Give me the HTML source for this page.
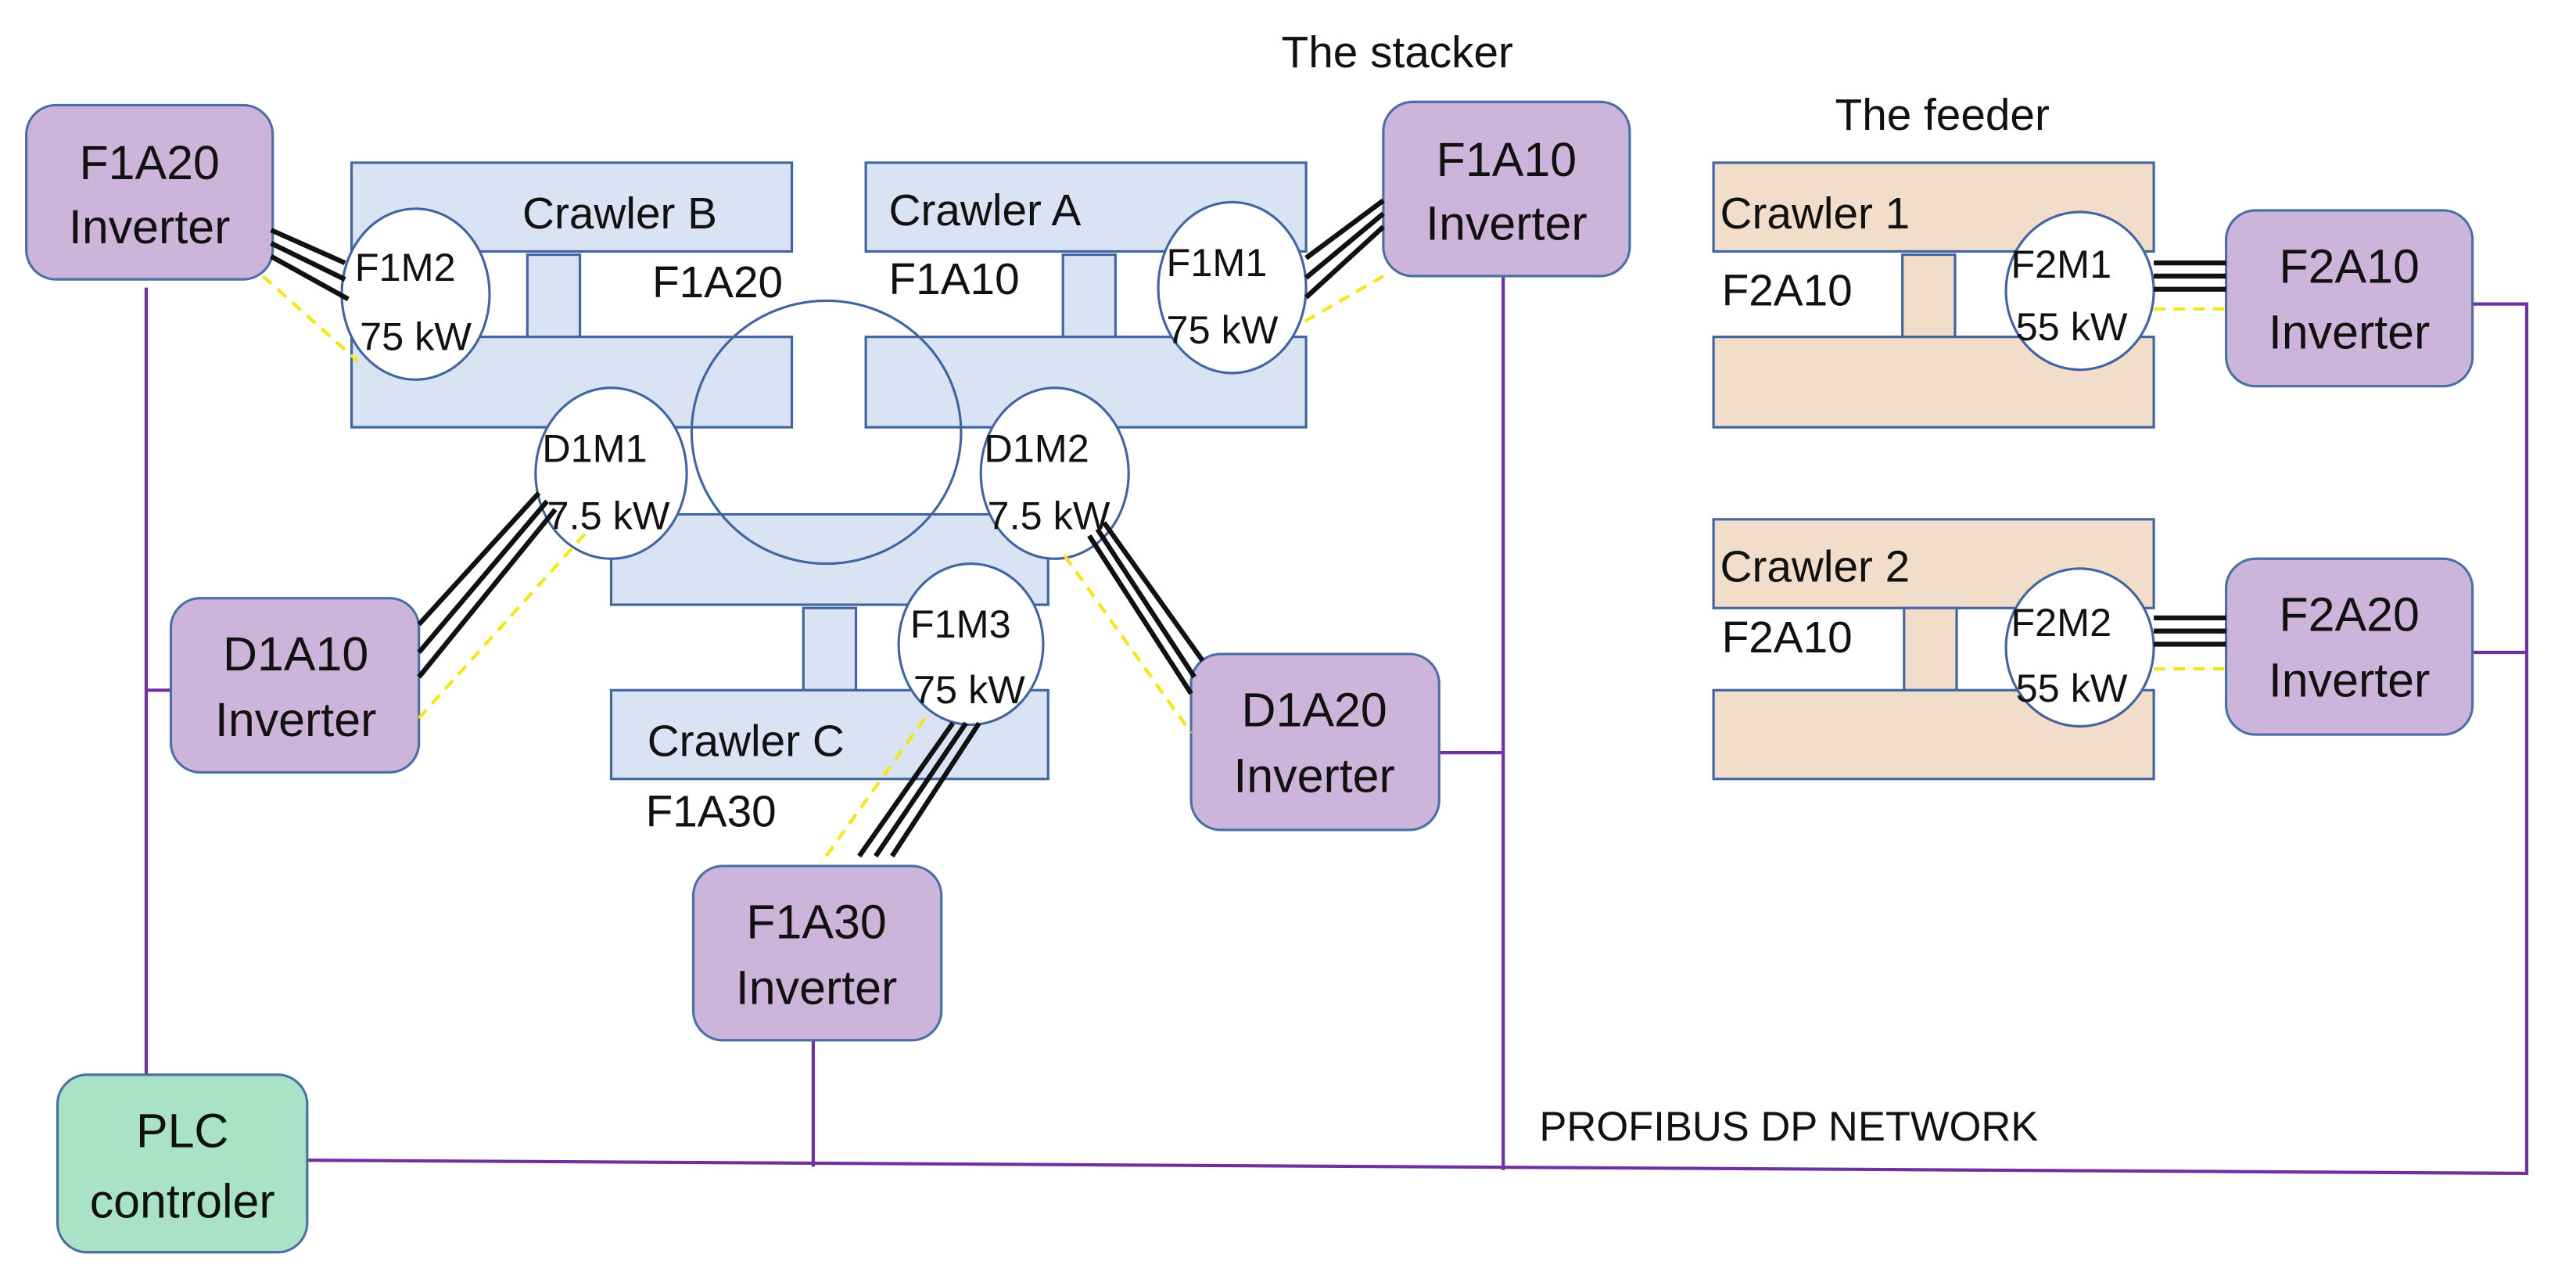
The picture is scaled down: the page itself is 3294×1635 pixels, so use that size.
<!DOCTYPE html>
<html><head><meta charset="utf-8"><style>
html,body{margin:0;padding:0;background:#fff;}
svg{display:block;}
text{font-family:"Liberation Sans",sans-serif;fill:#111;}
</style></head><body>
<svg width="3294" height="1635" viewBox="0 0 1568 778.3" preserveAspectRatio="none" xmlns="http://www.w3.org/2000/svg">
<g stroke="#7030a0" stroke-width="2" fill="none">
<line x1="89" y1="175" x2="89" y2="654"/>
<line x1="89" y1="420" x2="104" y2="420"/>
<polyline points="187,706 1538,714 1538,185 1505,185"/>
<line x1="1505" y1="397" x2="1538" y2="397"/>
<line x1="495" y1="633" x2="495" y2="710"/>
<line x1="915" y1="168" x2="915" y2="712"/>
<line x1="876" y1="458" x2="915" y2="458"/>
</g>
<g fill="#dae3f3" stroke="#4165a0" stroke-width="1.5">
<rect x="214" y="99" width="268" height="54"/>
<rect x="321" y="155" width="32" height="50"/>
<rect x="214" y="205" width="268" height="55"/>
<rect x="527" y="99" width="268" height="54"/>
<rect x="647" y="155" width="32" height="50"/>
<rect x="527" y="205" width="268" height="55"/>
<rect x="372" y="313" width="266" height="55"/>
<rect x="489" y="370" width="32" height="50"/>
<rect x="372" y="420" width="266" height="54"/>
</g>
<g fill="#f2dcca" stroke="#4165a0" stroke-width="1.5">
<rect x="1043" y="99" width="268" height="54"/>
<rect x="1158" y="155" width="32" height="50"/>
<rect x="1043" y="205" width="268" height="55"/>
<rect x="1043" y="316" width="268" height="54"/>
<rect x="1159" y="370" width="32" height="50"/>
<rect x="1043" y="420" width="268" height="54"/>
</g>
<ellipse cx="503" cy="263" rx="82" ry="80" fill="none" stroke="#4165a0" stroke-width="1.5"/>
<g fill="#fff" stroke="#4165a0" stroke-width="1.5">
<ellipse cx="253" cy="179" rx="45" ry="52"/>
<ellipse cx="750" cy="175" rx="45" ry="52"/>
<ellipse cx="372" cy="288" rx="46" ry="52"/>
<ellipse cx="642" cy="288" rx="45" ry="52"/>
<ellipse cx="591" cy="392" rx="44" ry="49"/>
<ellipse cx="1266" cy="177" rx="45" ry="48"/>
<ellipse cx="1266" cy="394" rx="45" ry="48"/>
</g>
<g fill="#cdb4db" stroke="#4a6fa5" stroke-width="1.5">
<rect x="16" y="64" width="150" height="106" rx="18"/>
<rect x="842" y="62" width="150" height="106" rx="18"/>
<rect x="104" y="364" width="151" height="106" rx="18"/>
<rect x="725" y="398" width="151" height="107" rx="18"/>
<rect x="422" y="527" width="151" height="106" rx="18"/>
<rect x="1355" y="128" width="150" height="107" rx="18"/>
<rect x="1355" y="340" width="150" height="107" rx="18"/>
</g>
<rect x="35" y="654" width="152" height="108" rx="18" fill="#a9e2c6" stroke="#4a6fa5" stroke-width="1.5"/>
<g stroke="#111" stroke-width="3">
<line x1="165" y1="140" x2="210" y2="160"/><line x1="165" y1="148" x2="210" y2="170"/><line x1="165" y1="156" x2="212" y2="182"/>
<line x1="842" y1="122" x2="795" y2="157"/><line x1="842" y1="130" x2="795" y2="169"/><line x1="842" y1="138" x2="795" y2="181"/>
<line x1="328" y1="300" x2="255" y2="380"/><line x1="333" y1="305" x2="255" y2="397"/><line x1="338" y1="310" x2="255" y2="412"/>
<line x1="672" y1="318" x2="732" y2="402"/><line x1="668" y1="322" x2="727" y2="412"/><line x1="663" y1="326" x2="725" y2="422"/>
<line x1="580" y1="440" x2="523" y2="521"/><line x1="588" y1="440" x2="533" y2="521"/><line x1="596" y1="440" x2="543" y2="521"/>
<line x1="1311" y1="160" x2="1355" y2="160"/><line x1="1311" y1="168" x2="1355" y2="168"/><line x1="1311" y1="176" x2="1355" y2="176"/>
<line x1="1311" y1="376" x2="1355" y2="376"/><line x1="1311" y1="384" x2="1355" y2="384"/><line x1="1311" y1="392" x2="1355" y2="392"/>
</g>
<g stroke="#f5e51a" stroke-width="2" stroke-dasharray="7,5">
<line x1="160" y1="168" x2="218" y2="220"/>
<line x1="842" y1="168" x2="790" y2="198"/>
<line x1="356" y1="325" x2="255" y2="437"/>
<line x1="648" y1="338" x2="725" y2="446"/>
<line x1="563" y1="437" x2="500" y2="525"/>
<line x1="1311" y1="188" x2="1355" y2="188"/>
<line x1="1311" y1="407" x2="1355" y2="407"/>
</g>
<g font-size="27">
<text x="780" y="41">The stacker</text>
<text x="1117" y="79">The feeder</text>
<text x="318" y="139">Crawler B</text>
<text x="541" y="137">Crawler A</text>
<text x="397" y="181">F1A20</text>
<text x="541" y="179">F1A10</text>
<text x="394" y="460">Crawler C</text>
<text x="393" y="503">F1A30</text>
<text x="1047" y="139">Crawler 1</text>
<text x="1048" y="186">F2A10</text>
<text x="1047" y="354">Crawler 2</text>
<text x="1048" y="397">F2A10</text>
<text x="937" y="694" font-size="25">PROFIBUS DP NETWORK</text>
</g>
<g font-size="24">
<text x="216" y="171">F1M2</text><text x="219" y="213">75 kW</text>
<text x="710" y="168">F1M1</text><text x="710" y="209">75 kW</text>
<text x="330" y="281">D1M1</text><text x="333" y="322">7.5 kW</text>
<text x="599" y="281">D1M2</text><text x="601" y="322">7.5 kW</text>
<text x="554" y="388">F1M3</text><text x="556" y="428">75 kW</text>
<text x="1224" y="169">F2M1</text><text x="1227" y="207">55 kW</text>
<text x="1224" y="387">F2M2</text><text x="1227" y="427">55 kW</text>
</g>
<g font-size="29" text-anchor="middle">
<text x="91" y="109">F1A20</text><text x="91" y="148">Inverter</text>
<text x="917" y="107">F1A10</text><text x="917" y="146">Inverter</text>
<text x="180" y="408">D1A10</text><text x="180" y="448">Inverter</text>
<text x="800" y="442">D1A20</text><text x="800" y="482">Inverter</text>
<text x="497" y="571">F1A30</text><text x="497" y="611">Inverter</text>
<text x="1430" y="172">F2A10</text><text x="1430" y="212">Inverter</text>
<text x="1430" y="384">F2A20</text><text x="1430" y="424">Inverter</text>
<text x="111" y="698">PLC</text><text x="111" y="741">controler</text>
</g>
</svg>
</body></html>
